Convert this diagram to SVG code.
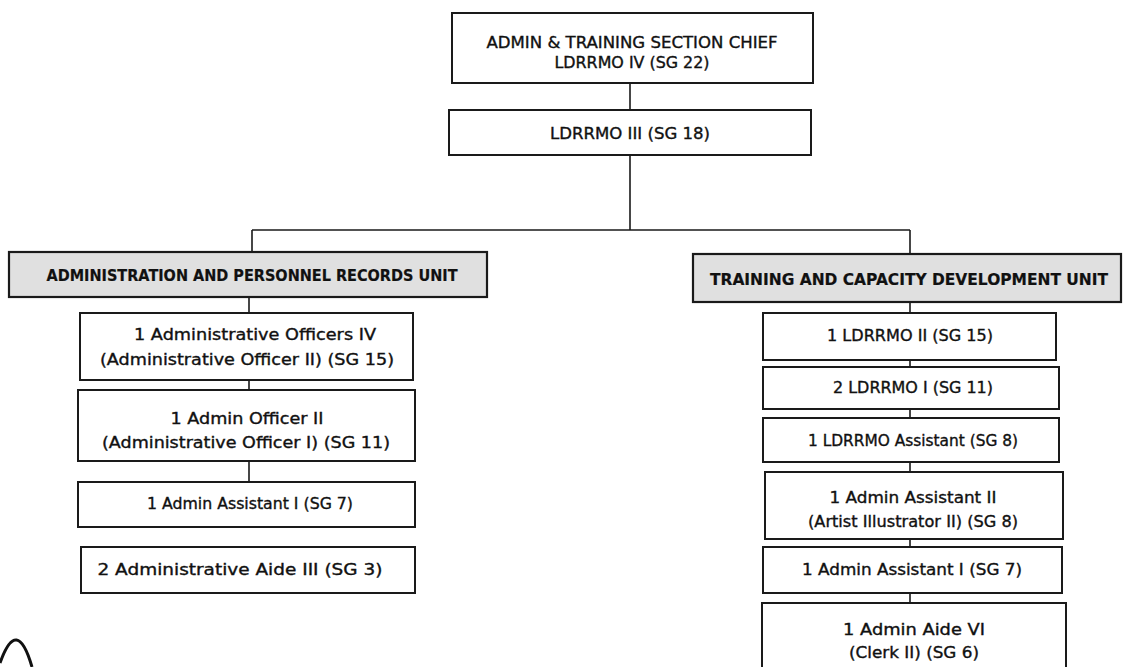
<svg xmlns="http://www.w3.org/2000/svg" width="1127" height="667" viewBox="0 0 1127 667">
<style>
.box{fill:#fff;stroke:#1a1a1a;stroke-width:2}
.hdr{fill:#e0e0e0;stroke:#1a1a1a;stroke-width:2.2}
.t{font-family:"DejaVu Sans","Liberation Sans",sans-serif;font-size:15px;fill:#111;stroke:#111;stroke-width:0.35;text-anchor:middle}
.b{font-weight:bold;font-size:16px;stroke-width:0.2}
.c{fill:none;stroke:#1a1a1a;stroke-width:1.6}
</style>
<rect width="1127" height="667" fill="#fff"/>
<g id="connectors">
<path class="c" d="M630,83V110M630,155V230M252,230H910M252,230V252M910,230V254"/>
<path class="c" d="M249,297V313M249,380V390M249,461V482"/>
<path class="c" d="M910,302V313M910,360V367M910,409V418M910,462V472M910,539V547M910,593V603"/>
</g>
<g id="chief">
<rect class="box" x="452" y="13" width="361" height="70"/>
<text class="t" x="632" y="48" textLength="291" lengthAdjust="spacingAndGlyphs">ADMIN &amp; TRAINING SECTION CHIEF</text>
<text class="t" x="632" y="68" textLength="155" lengthAdjust="spacingAndGlyphs">LDRRMO IV (SG 22)</text>
</g>
<g id="ldrrmo3">
<rect class="box" x="449" y="110" width="362" height="45"/>
<text class="t" x="630" y="139" textLength="160" lengthAdjust="spacingAndGlyphs">LDRRMO III (SG 18)</text>
</g>
<g id="admin-unit">
<rect class="hdr" x="9" y="252" width="478" height="45"/>
<text class="t b" x="252" y="281" textLength="411" lengthAdjust="spacingAndGlyphs">ADMINISTRATION AND PERSONNEL RECORDS UNIT</text>
</g>
<g id="training-unit">
<rect class="hdr" x="693" y="254" width="428" height="48"/>
<text class="t b" x="909" y="285" textLength="398" lengthAdjust="spacingAndGlyphs">TRAINING AND CAPACITY DEVELOPMENT UNIT</text>
</g>
<g id="ao4">
<rect class="box" x="80" y="313" width="333" height="67"/>
<text class="t" x="255" y="340" textLength="242" lengthAdjust="spacingAndGlyphs">1 Administrative Officers IV</text>
<text class="t" x="247" y="365" textLength="294" lengthAdjust="spacingAndGlyphs">(Administrative Officer II) (SG 15)</text>
</g>
<g id="ao2">
<rect class="box" x="78" y="390" width="337" height="71"/>
<text class="t" x="247" y="424" textLength="153" lengthAdjust="spacingAndGlyphs">1 Admin Officer II</text>
<text class="t" x="246" y="448" textLength="288" lengthAdjust="spacingAndGlyphs">(Administrative Officer I) (SG 11)</text>
</g>
<g id="aa1-left">
<rect class="box" x="78" y="482" width="337" height="45"/>
<text class="t" x="250" y="509" textLength="206" lengthAdjust="spacingAndGlyphs">1 Admin Assistant I (SG 7)</text>
</g>
<g id="aide3">
<rect class="box" x="81" y="547" width="334" height="46"/>
<text class="t" x="240" y="575" textLength="285" lengthAdjust="spacingAndGlyphs">2 Administrative Aide III (SG 3)</text>
</g>
<g id="ldrrmo2">
<rect class="box" x="763" y="313" width="293" height="47"/>
<text class="t" x="910" y="341" textLength="166" lengthAdjust="spacingAndGlyphs">1 LDRRMO II (SG 15)</text>
</g>
<g id="ldrrmo1">
<rect class="box" x="763" y="367" width="296" height="42"/>
<text class="t" x="913" y="393" textLength="160" lengthAdjust="spacingAndGlyphs">2 LDRRMO I (SG 11)</text>
</g>
<g id="ldrrmo-asst">
<rect class="box" x="763" y="418" width="296" height="44"/>
<text class="t" x="913" y="446" textLength="210" lengthAdjust="spacingAndGlyphs">1 LDRRMO Assistant (SG 8)</text>
</g>
<g id="aa2">
<rect class="box" x="765" y="472" width="298" height="67"/>
<text class="t" x="913" y="503" textLength="167" lengthAdjust="spacingAndGlyphs">1 Admin Assistant II</text>
<text class="t" x="913" y="527" textLength="210" lengthAdjust="spacingAndGlyphs">(Artist Illustrator II) (SG 8)</text>
</g>
<g id="aa1-right">
<rect class="box" x="763" y="547" width="299" height="46"/>
<text class="t" x="912" y="575" textLength="220" lengthAdjust="spacingAndGlyphs">1 Admin Assistant I (SG 7)</text>
</g>
<g id="aide6">
<rect class="box" x="762" y="603" width="304" height="80"/>
<text class="t" x="914" y="635" textLength="142" lengthAdjust="spacingAndGlyphs">1 Admin Aide VI</text>
<text class="t" x="914" y="658" textLength="130" lengthAdjust="spacingAndGlyphs">(Clerk II) (SG 6)</text>
</g>
<path d="M0,663 Q17,615 32,667" fill="none" stroke="#111" stroke-width="3"/>
</svg>
